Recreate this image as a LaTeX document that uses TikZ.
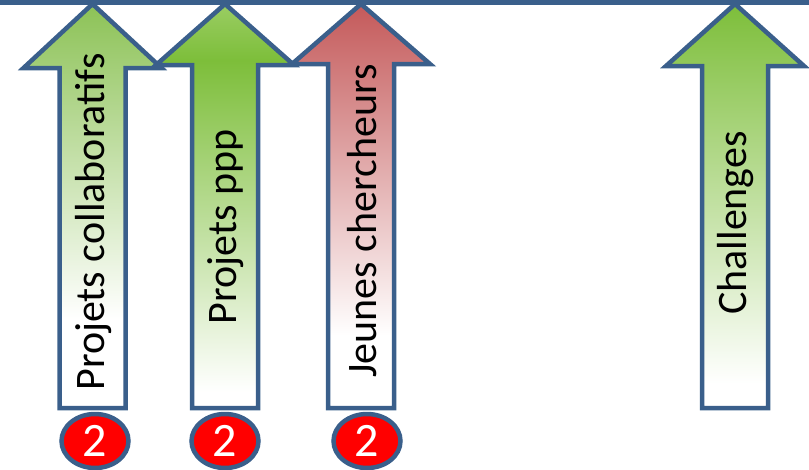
\documentclass[tikz,border=0pt]{standalone}
\usepackage{fontspec}
\setmainfont{Carlito}
\usetikzlibrary{shapes.geometric}

\definecolor{edgeblue}{HTML}{3A5F8B}
\definecolor{leafgreen}{HTML}{8CC256}
\definecolor{deepgreen}{HTML}{7DBE3A}
\definecolor{softgreen}{HTML}{9ACD63}
\definecolor{brick}{HTML}{C4595A}
\definecolor{badgered}{HTML}{FF0000}

% vertical shadings: the path box maps to 25bp..75bp (bottom..top)
\pgfdeclareverticalshading{fadeA}{100bp}{color(0bp)=(white); color(36bp)=(white); color(75bp)=(leafgreen); color(100bp)=(leafgreen)}
\pgfdeclareverticalshading{fadeB}{100bp}{color(0bp)=(white); color(27bp)=(white); color(68bp)=(deepgreen); color(75bp)=(softgreen); color(100bp)=(softgreen)}
\pgfdeclareverticalshading{fadeC}{100bp}{color(0bp)=(white); color(34bp)=(white); color(75bp)=(brick); color(100bp)=(brick)}
\pgfdeclareverticalshading{fadeD}{100bp}{color(0bp)=(white); color(28bp)=(white); color(75bp)=(deepgreen); color(100bp)=(deepgreen)}

\tikzset{
  arrowshape/.style={draw=edgeblue, line width=4.5pt, line join=miter, miter limit=10},
  label/.style={rotate=90, font=\fontsize{42}{46}\selectfont, text=black, inner sep=0pt},
  badge/.style={ellipse, draw=edgeblue, line width=4.5pt, fill=badgered,
    minimum width=67pt, minimum height=54pt, inner sep=0pt,
    text=white, font=\fontsize{48}{52}\selectfont},
}

% up arrow: #1 centre x, #2 head base y, #3 shading
\newcommand{\uparrowshape}[3]{%
  \path[arrowshape, shading=#3]
    (#1,4) -- (#1+69,#2) -- (#1+33,#2) -- (#1+33,408)
    -- (#1-33,408) -- (#1-33,#2) -- (#1-69,#2) -- cycle;}

\begin{document}
\begin{tikzpicture}[x=1pt, y=-1pt]
  \useasboundingbox (0,0) rectangle (809,469);

  % rail along the top edge
  \coordinate (railL) at (-5,2);
  \coordinate (railR) at (814,2);
  \draw[edgeblue, line width=5pt] (railL) -- (railR);

  \uparrowshape{92.5}{68}{fadeA}
  \uparrowshape{225}{65}{fadeB}
  \uparrowshape{361}{64}{fadeC}
  \uparrowshape{735}{66}{fadeD}

  \node[label] (collab) at (94,222) {Projets collaboratifs};
  \node[label] (ppp) at (226,227) {Projets ppp};
  \node[label] (jeunes) at (362,221) {Jeunes chercheurs};
  \node[label] (challenges) at (736,223) {Challenges};

  \node[badge] (b1) at (95,441) {2};
  \node[badge] (b2) at (225,441) {2};
  \node[badge] (b3) at (367,441) {2};
\end{tikzpicture}
\end{document}
